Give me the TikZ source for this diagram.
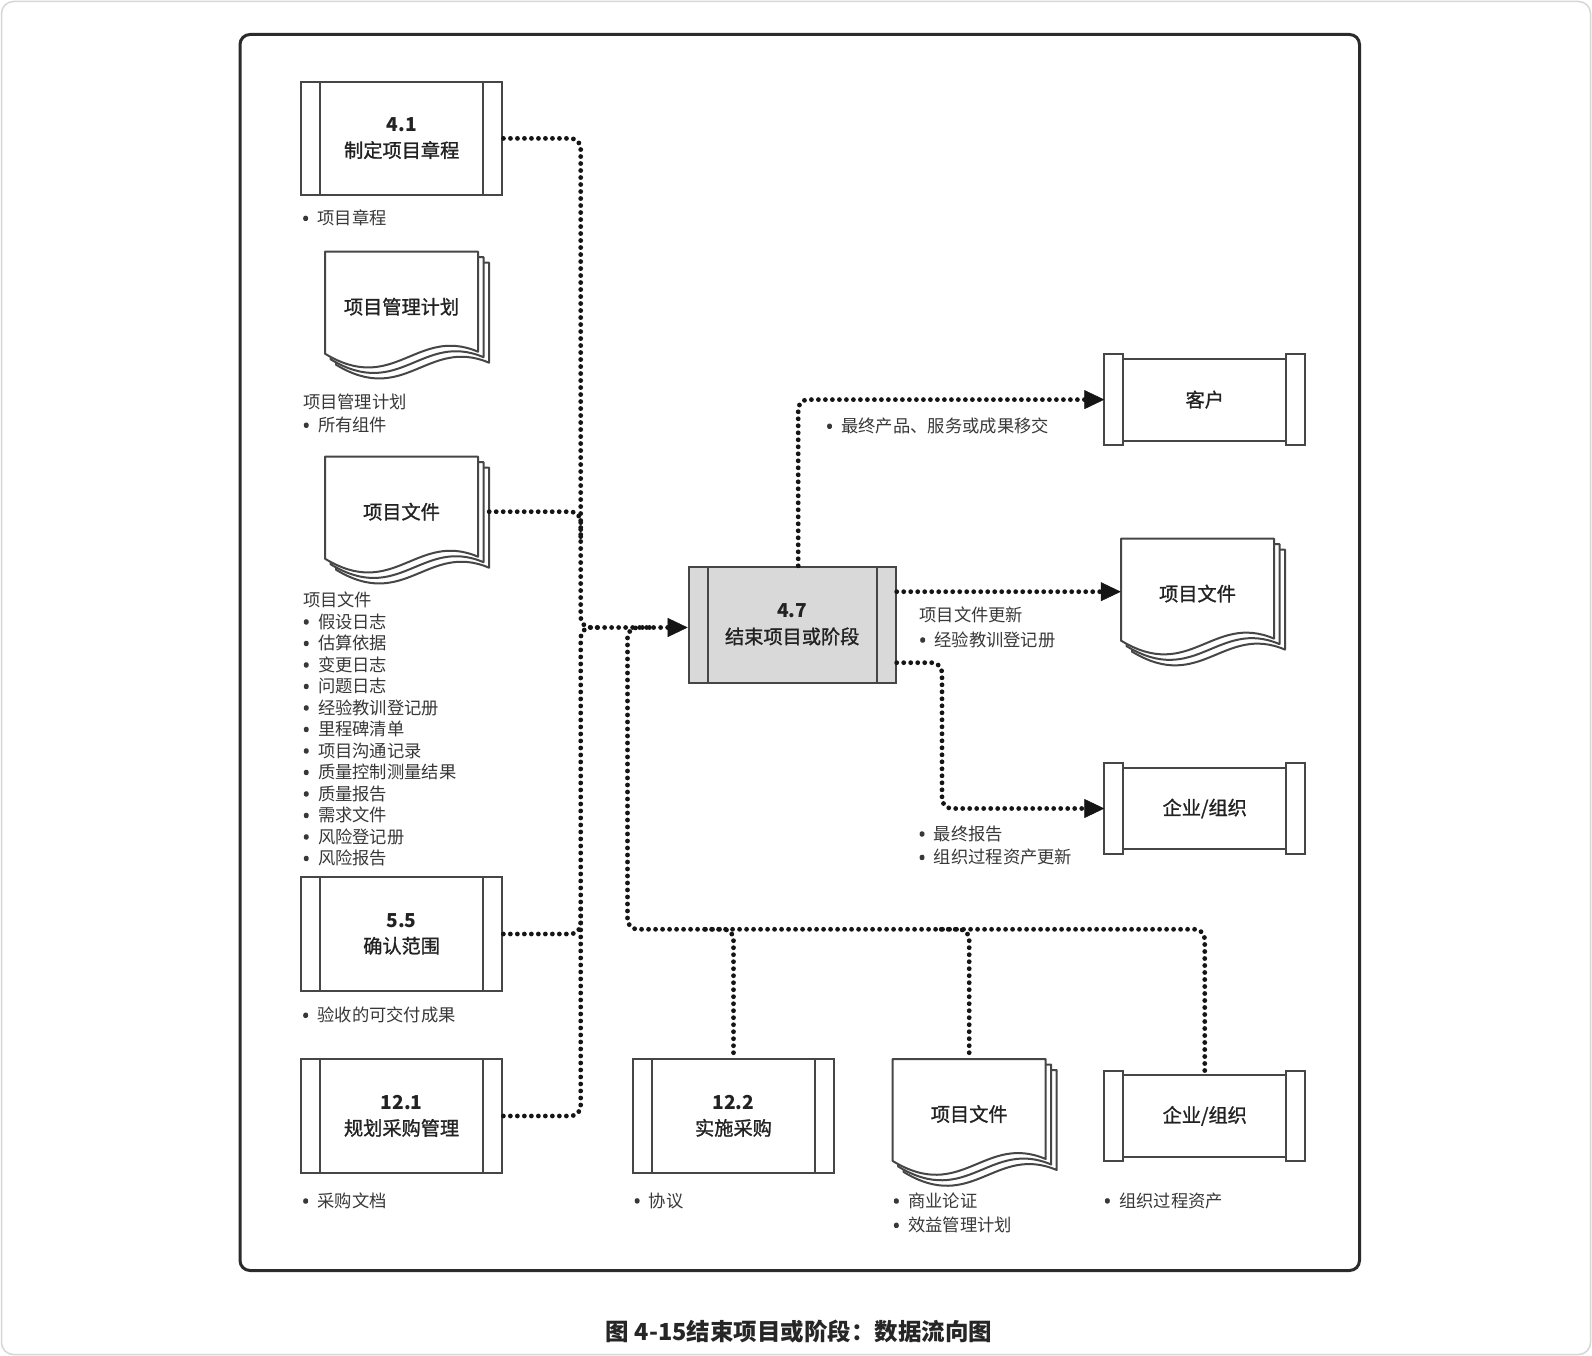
\documentclass[tikz,border=0pt]{standalone}
\usepackage{fontspec}
\setmainfont{Noto Sans CJK SC}
\newfontfamily\medfont{Noto Sans CJK SC}[FakeBold=1.2]
\newfontfamily\bulfont{Noto Sans}[FakeBold=6]
\usetikzlibrary{arrows.meta}
\definecolor{linegray}{HTML}{464646}
\definecolor{textdark}{HTML}{222222}
\definecolor{labeltext}{HTML}{383838}
\definecolor{dotcol}{HTML}{151515}
\definecolor{fillgray}{HTML}{D9D9D9}
\definecolor{outerline}{HTML}{D6D6D6}
\definecolor{framecol}{HTML}{2B2B2B}
\newcommand\bul{{\bulfont •}\hspace{8.5pt}}
\newcommand\entityframe[1]{%
  \draw[boxline, fill=white] (#1.north west) rectangle ([xshift=18.5pt]#1.south west);
  \draw[boxline, fill=white] (#1.north east) rectangle ([xshift=-19pt]#1.south east);
  \draw[boxline] ([xshift=18.5pt,yshift=-4.5pt]#1.north west) rectangle ([xshift=-19pt,yshift=4.5pt]#1.south east);}
\newcommand\docpages[2]{%
  \begin{scope}[shift={(#1,#2)}]
    \foreach \d in {11,5.5,0}{
      \draw[boxline, fill=white, line join=round] (\d,\d) -- (153+\d,\d) -- (153+\d,100+\d)
        .. controls (91.8+\d,74+\d) and (68.9+\d,144+\d) .. (\d,102+\d) -- cycle;
    }
  \end{scope}}
\tikzset{
  boxline/.style={draw=linegray, line width=2pt},
  boxfont/.style={font=\medfont\fontsize{19.2}{25.8}\selectfont},
  procbox/.style={boxline, fill=white, minimum width=201.5pt, minimum height=113.4pt,
    inner sep=0pt, align=center, text=textdark, boxfont,
    path picture={\draw[boxline]
      ([xshift=19pt]path picture bounding box.north west) -- ([xshift=19pt]path picture bounding box.south west)
      ([xshift=-19pt]path picture bounding box.north east) -- ([xshift=-19pt]path picture bounding box.south east);}},
  entnode/.style={minimum width=200.5pt, minimum height=90.4pt, inner sep=0pt, fill=white,
    text=textdark, boxfont},
  docnode/.style={minimum width=153pt, minimum height=102pt, inner sep=0pt, text=textdark,
    boxfont, text height=24pt, text depth=1.3pt},
  lbl/.style={anchor=west, inner sep=0pt, align=left, text=labeltext,
    font=\fontsize{17.3}{21.5}\selectfont},
  flow/.style={draw=dotcol, line width=4.8pt, dash pattern=on 0pt off 7pt, line cap=round,
    rounded corners=10pt},
  arr/.style={-{Triangle[length=20pt, width=19pt, line width=0.5pt]}},
}
\begin{document}
\begin{tikzpicture}[x=1pt, y=-1pt]
\useasboundingbox (0,0) rectangle (1592,1356);
\fill[white] (0,0) rectangle (1592,1356);
\draw[outerline, line width=1.5pt, rounded corners=12pt] (1.5,1.5) rectangle (1590.5,1354.5);
\draw[framecol, line width=3pt, rounded corners=10pt] (240,34.5) rectangle (1359.5,1270.5);

% process boxes
\node[procbox] (b41) at (401.7,138.4) {{\normalfont\bfseries 4.1}\\制定项目章程};
\node[procbox] (b55) at (401.6,934) {{\normalfont\bfseries 5.5}\\确认范围};
\node[procbox] (b121) at (401.6,1116) {{\normalfont\bfseries 12.1}\\规划采购管理};
\node[procbox] (b122) at (733.5,1116) {{\normalfont\bfseries 12.2}\\实施采购};
\node[procbox, fill=fillgray, minimum width=207pt, minimum height=115.8pt] (b47) at (792.2,624.7)
  {{\normalfont\bfseries 4.7}\\结束项目或阶段};

% documents
\docpages{325}{251.7}
\node[docnode] (docPlan) at (401.5,302.7) {项目管理计划};
\docpages{325}{456.7}
\node[docnode] (docFiles) at (401.5,507.7) {项目文件};
\docpages{1121}{538.6}
\node[docnode] (docR) at (1197.5,589.6) {项目文件};
\docpages{892.7}{1059}
\node[docnode] (docB) at (969.2,1110) {项目文件};

% external entities
\node[entnode] (kehu) at (1204.75,399.6) {客户};
\entityframe{kehu}
\node[entnode] (org1) at (1204.75,808.5) {企业/组织};
\entityframe{org1}
\node[entnode] (org2) at (1204.75,1115.9) {企业/组织};
\entityframe{org2}

% labels
\node[lbl] (l41) at (302.2,218) {\bul 项目章程};
\node[lbl, font=\fontsize{17.3}{23.3}\selectfont] (lplan) at (302.8,413.3) {项目管理计划\\\bul 所有组件};
\node[lbl] (lfiles) at (302.8,729.2) {项目文件\\\bul 假设日志\\\bul 估算依据\\\bul 变更日志\\\bul 问题日志\\\bul 经验教训登记册\\\bul 里程碑清单\\\bul 项目沟通记录\\\bul 质量控制测量结果\\\bul 质量报告\\\bul 需求文件\\\bul 风险登记册\\\bul 风险报告};
\node[lbl] (l55) at (302.2,1015) {\bul 验收的可交付成果};
\node[lbl] (l121) at (302.2,1200.7) {\bul 采购文档};
\node[lbl] (l122) at (633.7,1200.7) {\bul 协议};
\node[lbl, font=\fontsize{17.3}{24.3}\selectfont] (ldocB) at (892.9,1212.9) {\bul 商业论证\\\bul 效益管理计划};
\node[lbl] (lorg2) at (1103.9,1200.7) {\bul 组织过程资产};
\node[lbl] (lkehu) at (826.1,426) {\bul 最终产品、服务或成果移交};
\node[lbl, font=\fontsize{17.3}{24.7}\selectfont] (ldocR) at (919.2,627.4) {项目文件更新\\\bul 经验教训登记册};
\node[lbl, font=\fontsize{17.3}{23.4}\selectfont] (lorg1) at (918.6,845.5) {\bul 最终报告\\\bul 组织过程资产更新};

% caption
\node[font=\bfseries\fontsize{23.5}{28}\selectfont, text=black!85] (cap) at (799,1331.7) {图 4-15结束项目或阶段：数据流向图};

% connectors
\coordinate (vL) at (580.7,627.5);
\coordinate (vT) at (627.5,627.5);
\coordinate (vB) at (627.5,929.3);
\coordinate (jF) at (580.7,540);
\coordinate (j121) at (580.7,905);
\coordinate (kO) at (942,808.5);

\draw[flow] (b41.east) -| (vL) -- ++(22,0);
\draw[flow] ([xshift=11pt,yshift=-4pt]docFiles.east) -| (jF);
\draw[flow, arr] (b55.east) -| (vL) -- (b47.west |- vL);
\draw[flow] (b121.east) -| (j121);
\draw[flow] (org2.north) |- (vB) -- (vT) -- ++(28,0);
\draw[flow] ([xshift=-28pt]b122.north |- vB) -- (b122.north |- vB) -- (b122.north);
\draw[flow] ([xshift=-28pt]docB.north |- vB) -- (docB.north |- vB) -- (docB.north);
\draw[flow, arr] ([xshift=6pt]b47.north) |- (kehu.west);
\draw[flow, arr] ([yshift=33pt]b47.east) -- ([yshift=33pt]b47.east -| docR.west);
\draw[flow, arr] ([yshift=-38pt]b47.east) -| (kO) -- (org1.west);
\end{tikzpicture}
\end{document}
